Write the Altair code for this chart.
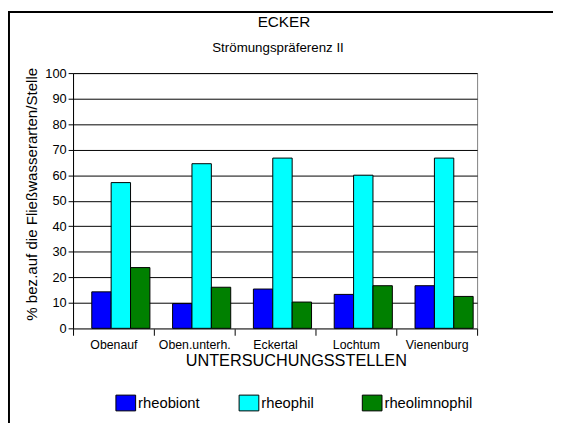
import altair as alt
import pandas as pd

sites = ["Obenauf", "Oben.unterh.", "Eckertal", "Lochtum", "Vienenburg"]
series = ["rheobiont", "rheophil", "rheolimnophil"]
rheobiont = [14.3, 9.7, 15.4, 13.3, 16.7]
rheophil = [57.1, 64.5, 66.7, 60.0, 66.7]
rheolimnophil = [23.8, 16.1, 10.3, 16.7, 12.5]
colors = ["#0000FF", "#00FFFF", "#008000"]
y_ticks = [0, 10, 20, 30, 40, 50, 60, 70, 80, 90, 100]
title_text = "ECKER"
subtitle_text = "Strömungspräferenz II"

rows = []
for name, vals in zip(series, [rheobiont, rheophil, rheolimnophil]):
    for s, v in zip(sites, vals):
        rows.append({"Stelle": s, "Gruppe": name, "Wert": v})
df = pd.DataFrame(rows)

FONT = "Liberation Sans"
PL = 66  # left padding (svg px)
W = 410
H = 259

bars = alt.Chart(df).mark_bar(stroke="#000000", strokeWidth=1, opacity=1).encode(
    x=alt.X(
        "Stelle:N",
        sort=sites,
        scale=alt.Scale(paddingInner=0, paddingOuter=0),
        axis=alt.Axis(
            title="UNTERSUCHUNGSSTELLEN",
            labelAngle=0,
            labelFontSize=12.5,
            titleFontSize=16.5,
            titleFontWeight="normal",
            titleX=226,
            titleAlign="center",
            titlePadding=2,
            tickBand="extent",
            tickSize=7,
            tickColor="#000000",
            domainColor="#808080",
            labelPadding=3,
            labelColor="#000000",
            titleColor="#000000",
        ),
    ),
    xOffset=alt.XOffset(
        "Gruppe:N", sort=series,
        scale=alt.Scale(paddingInner=0, paddingOuter=0, range=[19, 78]),
    ),
    y=alt.Y(
        "Wert:Q",
        scale=alt.Scale(domain=[0, 100], nice=False),
        axis=alt.Axis(
            title="% bez.auf die Fließwasserarten/Stelle",
            values=y_ticks,
            labelFontSize=13,
            titleFontSize=15.3,
            titleFontWeight="normal",
            titleY=122.5,
            titleAlign="center",
            tickSize=5,
            tickColor="#000000",
            domainColor="#000000",
            gridColor="#000000",
            gridWidth=1,
            labelPadding=2,
            titlePadding=5,
            labelColor="#000000",
            titleColor="#000000",
        ),
    ),
    color=alt.Color(
        "Gruppe:N",
        sort=series,
        scale=alt.Scale(domain=series, range=colors),
        legend=alt.Legend(
            title=None,
            orient="none",
            direction="horizontal",
            legendX=45,
            legendY=326,
            symbolType="M-1.25,-1H1.25V1H-1.25Z",
            symbolSize=256,
            symbolStrokeColor="#000000",
            symbolStrokeWidth=1,
            symbolOpacity=1,
            labelFontSize=15,
            labelOffset=4,
            gridAlign="all",
            columnPadding=10,
            labelColor="#000000",
        ),
    ),
)

one = alt.Data(values=[{}])
frame_left = alt.Chart(one).mark_rule(color="#000000", strokeWidth=2).encode(
    x=alt.value(-PL + 1), y=alt.value(-63), y2=alt.value(360)
)
frame_top = alt.Chart(one).mark_rule(color="#000000", strokeWidth=2).encode(
    x=alt.value(-PL), x2=alt.value(500), y=alt.value(-62)
)
title_mark = alt.Chart(one).mark_text(
    text=title_text, fontSize=15.5, font=FONT, color="#000000", baseline="middle", align="center"
).encode(x=alt.value(214), y=alt.value(-52))
subtitle_mark = alt.Chart(one).mark_text(
    text=subtitle_text, fontSize=13.5, font=FONT, color="#000000", baseline="middle", align="center"
).encode(x=alt.value(208), y=alt.value(-25))

chart = alt.layer(bars, frame_left, frame_top, title_mark, subtitle_mark).properties(
    width=W,
    height=H,
    autosize=alt.AutoSizeParams(type="none"),
    padding={"left": PL, "top": 63, "right": 553 - PL - W, "bottom": 93},
).configure(font=FONT).configure_view(stroke="#808080", strokeWidth=1).configure_axis(
    labelFont=FONT, titleFont=FONT
).configure_legend(labelFont=FONT)

chart.save("out.html", embed_options={"renderer": "svg", "actions": False})
